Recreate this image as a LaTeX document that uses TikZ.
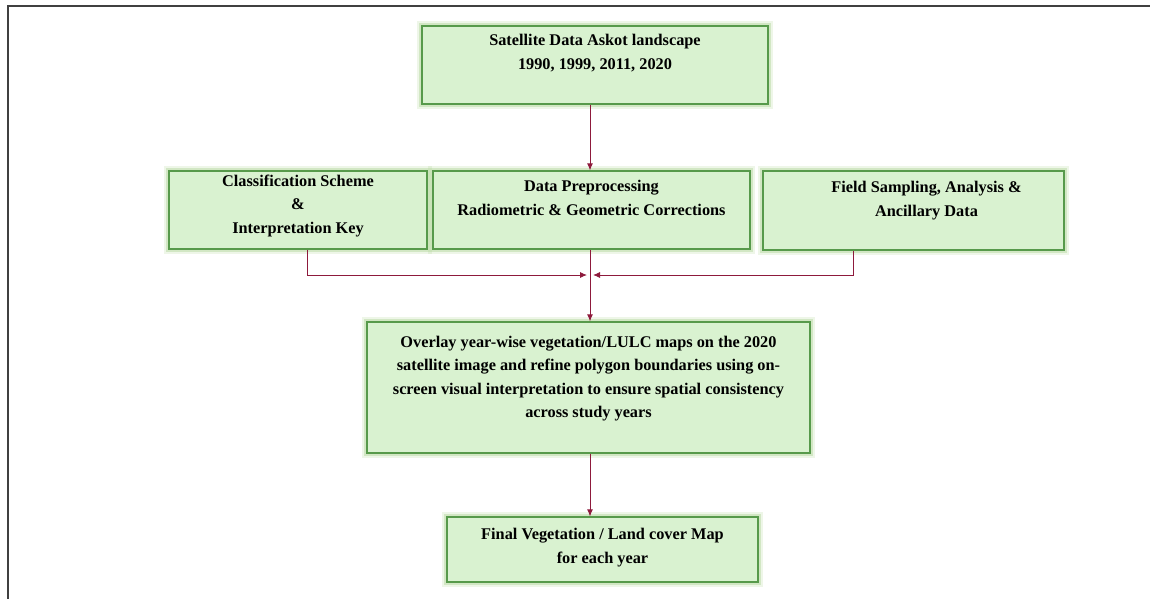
\documentclass[tikz,border=0pt]{standalone}
\usepackage{fontspec}
\setmainfont{Liberation Serif}
\usepackage{tikz}
\usetikzlibrary{arrows.meta}

\definecolor{boxfill}{HTML}{D9F2D0}
\definecolor{boxedge}{HTML}{579A4B}
\definecolor{glowc}{HTML}{A9D18E}
\definecolor{flowc}{HTML}{8E1A3C}
\definecolor{framec}{HTML}{404040}

\tikzset{
  box/.style={rectangle, draw=boxedge, fill=boxfill, line width=1.2pt, inner sep=0pt,
    preaction={draw=glowc, line width=10pt, opacity=0.2},
    preaction={draw=glowc, line width=6pt, opacity=0.4}},
  txt/.style={align=center, inner sep=0pt, font=\bfseries\fontsize{16.3}{23.5}\selectfont},
  flow/.style={draw=flowc, line width=0.9pt, -{Latex[length=7pt,width=6pt]}},
  link/.style={draw=flowc, line width=0.9pt}
}

\begin{document}
\begin{tikzpicture}[x=1pt, y=-1pt]
\useasboundingbox (0,0) rectangle (1150,599);
\draw [framec, line width=2pt] (8,599) -- (8,6) -- (1150,6);

% boxes
\node [box, minimum width=346, minimum height=78] (sat) at (595,65) {};
\node [box, minimum width=258, minimum height=78] (cls) at (298,210) {};
\node [box, minimum width=317, minimum height=78] (prep) at (591.5,210) {};
\node [box, minimum width=301, minimum height=79] (fld) at (913.5,210.5) {};
\node [box, minimum width=443, minimum height=131] (mid) at (588.5,387.5) {};
\node [box, minimum width=311, minimum height=65] (fin) at (602.5,549.5) {};

% texts
\node [txt] (satT) at ([yshift=12]sat) {Satellite Data Askot landscape\\1990, 1999, 2011, 2020};
\node [txt] (clsT) at ([yshift=4]cls) {Classification Scheme\\\&\\Interpretation Key};
\node [txt] (prepT) at ([yshift=12]prep) {Data Preprocessing\\Radiometric \& Geometric Corrections};
\node [txt] (fldT) at ([xshift=13, yshift=10]fld) {Field Sampling, Analysis \&\\Ancillary Data};
\node [txt] (midT) at ([yshift=9]mid) {Overlay year-wise vegetation/LULC maps on the 2020\\
  satellite image and refine polygon boundaries using on-\\
  screen visual interpretation to ensure spatial consistency\\
  across study years};
\node [txt] (finT) at ([yshift=2]fin) {Final Vegetation / Land cover Map\\for each year};

% connectors
\coordinate (j) at (590,275);
\coordinate (jl) at ([xshift=-3]j);
\coordinate (jr) at ([xshift=3]j);
\coordinate (fldS) at ([xshift=-60]fld.south);
\draw [flow] (sat.south -| j) -- (prep.north -| j);
\draw [link] (prep.south -| j) -- (j);
\draw [flow] ([xshift=9]cls.south) |- (jl);
\draw [flow] (fldS) |- (jr);
\draw [flow] (j) -- (mid.north -| j);
\draw [flow] (mid.south -| j) -- (fin.north -| j);
\end{tikzpicture}
\end{document}
